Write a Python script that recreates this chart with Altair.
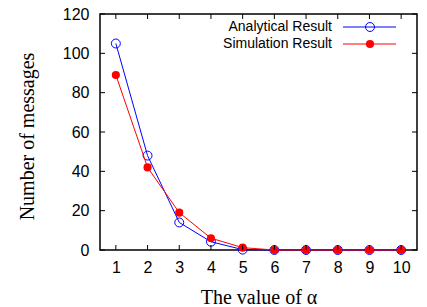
import altair as alt
import pandas as pd

alpha = [1, 2, 3, 4, 5, 6, 7, 8, 9, 10]
analytical = [105, 48, 14, 4.2, 0.2, 0, 0, 0, 0, 0]
simulation = [89, 42, 19, 6, 1.2, 0, 0, 0, 0, 0]
series_names = ["Analytical Result", "Simulation Result"]
x_ticks = [1, 2, 3, 4, 5, 6, 7, 8, 9, 10]
y_ticks = [0, 20, 40, 60, 80, 100, 120]

W, H = 317, 236
BLUE = "#0000ff"
RED = "#ff0000"
SANS = "Liberation Sans"
SERIF = "Liberation Serif"

df = pd.DataFrame({"alpha": alpha, "analytical": analytical, "simulation": simulation})
xt = pd.DataFrame({"t": x_ticks})
yt = pd.DataFrame({"t": y_ticks})

xscale = alt.Scale(domain=[0.5, 10.5], nice=False, zero=False)
yscale = alt.Scale(domain=[0, 120], nice=False)

xaxis = alt.Axis(values=x_ticks, ticks=False, domain=False, grid=False,
                 labelOverlap=False, labelFlush=False,
                 labelFont=SANS, labelFontSize=16, labelColor="black", labelPadding=9,
                 title="The value of α", titleFont=SERIF, titleFontSize=20,
                 titleFontWeight="normal", titleColor="black",
                 titleX=W / 2, titleY=53, titleBaseline="alphabetic", titleAlign="center")
yaxis = alt.Axis(values=y_ticks, ticks=False, domain=False, grid=False,
                 labelOverlap=False, labelFlush=False,
                 labelFont=SANS, labelFontSize=16, labelColor="black", labelPadding=11,
                 title="Number of messages", titleFont=SERIF, titleFontSize=20,
                 titleFontWeight="normal", titleColor="black",
                 titleX=-73, titleY=122, titleAngle=-90, titleBaseline="middle", titleAlign="center")

base = alt.Chart(df)

blue_line = base.mark_line(color=BLUE, strokeWidth=1).encode(
    x=alt.X("alpha:Q", scale=xscale, axis=xaxis),
    y=alt.Y("analytical:Q", scale=yscale, axis=yaxis),
)
blue_pts = base.mark_point(shape="circle", color=BLUE, filled=False, size=80, strokeWidth=1, opacity=1).encode(
    x=alt.X("alpha:Q", scale=xscale, axis=xaxis),
    y=alt.Y("analytical:Q", scale=yscale, axis=yaxis),
)
red_line = base.mark_line(color=RED, strokeWidth=1).encode(
    x=alt.X("alpha:Q", scale=xscale, axis=xaxis),
    y=alt.Y("simulation:Q", scale=yscale, axis=yaxis),
)
red_pts = base.mark_point(shape="circle", color=RED, filled=True, size=66, opacity=1).encode(
    x=alt.X("alpha:Q", scale=xscale, axis=xaxis),
    y=alt.Y("simulation:Q", scale=yscale, axis=yaxis),
)

tick_style = dict(color="black", strokeWidth=1)
xt_bottom = alt.Chart(xt).mark_rule(**tick_style).encode(
    x=alt.X("t:Q", scale=xscale, axis=xaxis), y=alt.value(H), y2=alt.value(H - 5))
xt_top = alt.Chart(xt).mark_rule(**tick_style).encode(
    x=alt.X("t:Q", scale=xscale, axis=xaxis), y=alt.value(0), y2=alt.value(5))
yt_left = alt.Chart(yt).mark_rule(**tick_style).encode(
    y=alt.Y("t:Q", scale=yscale, axis=yaxis), x=alt.value(0), x2=alt.value(5))
yt_right = alt.Chart(yt).mark_rule(**tick_style).encode(
    y=alt.Y("t:Q", scale=yscale, axis=yaxis), x=alt.value(W), x2=alt.value(W - 5))

# manual gnuplot-style legend (label left, sample right)
legend_layers = []
for name, col, filled, size, ypos in [
    (series_names[0], BLUE, False, 80, 13),
    (series_names[1], RED, True, 66, 30),
]:
    ld = pd.DataFrame({"name": [name]})
    legend_layers.append(alt.Chart(ld).mark_text(
        align="right", baseline="middle", font=SANS, fontSize=14, color="black"
    ).encode(text="name:N", x=alt.value(232), y=alt.value(ypos)))
    legend_layers.append(alt.Chart(ld).mark_rule(color=col, strokeWidth=1).encode(
        x=alt.value(243), x2=alt.value(296), y=alt.value(ypos)))
    legend_layers.append(alt.Chart(ld).mark_point(
        shape="circle", color=col, filled=filled, size=size, strokeWidth=1, opacity=1
    ).encode(x=alt.value(270), y=alt.value(ypos)))

chart = alt.layer(
    blue_line, blue_pts, red_line, red_pts,
    xt_bottom, xt_top, yt_left, yt_right,
    *legend_layers,
).properties(
    width=W, height=H,
    background="white",
    autosize=alt.AutoSizeParams(type="none"),
    padding={"left": 92, "top": 6, "right": 2, "bottom": 57},
).configure_view(
    stroke="black", strokeWidth=1.5
).configure_axis(
    labelOverlap=False, labelFlush=False
)

chart.save("out.html", embed_options={"renderer": "svg", "actions": False})
